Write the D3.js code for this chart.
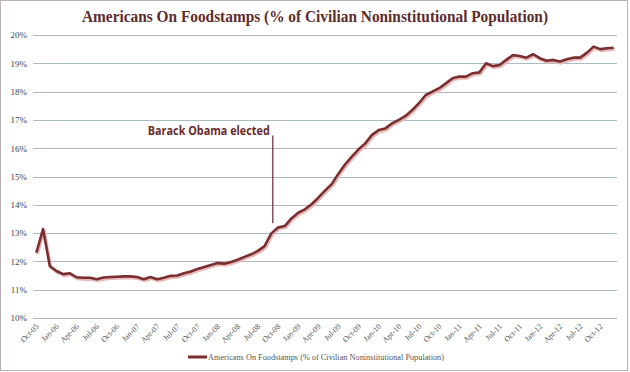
<!DOCTYPE html>
<html>
  <head>
    <meta charset="utf-8">
    <title>Americans On Foodstamps</title>
    <style>
      body { margin: 0; background: #fff; }
      svg { display: block; }
    </style>
  </head>
  <body>
    <div class="chart-area"></div>

    <script src="https://d3js.org/d3.v7.min.js"></script>
    <script>
      // months from Oct-05 to Dec-12
      var monthNames = ["Jan","Feb","Mar","Apr","May","Jun","Jul","Aug","Sep","Oct","Nov","Dec"];
      var months = [];
      for (var k = 0; k < 87; k++) {
        var m = (9 + k) % 12, yr = 5 + Math.floor((9 + k) / 12);
        months.push(monthNames[m] + "-" + (yr < 10 ? "0" + yr : yr));
      }

      // % of civilian noninstitutional population
      var values = [
        12.31, 13.14, 11.84, 11.66, 11.55, 11.58, 11.44, 11.42, 11.42, 11.37,
        11.43, 11.45, 11.46, 11.47, 11.47, 11.45, 11.37, 11.45, 11.37, 11.42,
        11.49, 11.50, 11.58, 11.64, 11.73, 11.80, 11.87, 11.94, 11.92, 11.98,
        12.06, 12.16, 12.25, 12.37, 12.54, 12.99, 13.20, 13.25, 13.52, 13.72,
        13.84, 14.02, 14.25, 14.50, 14.73, 15.10, 15.43, 15.70, 15.96, 16.17,
        16.47, 16.64, 16.70, 16.88, 17.00, 17.14, 17.35, 17.59, 17.88, 18.00,
        18.12, 18.29, 18.47, 18.53, 18.53, 18.65, 18.68, 19.00, 18.90, 18.94,
        19.12, 19.29, 19.26, 19.20, 19.32, 19.18, 19.09, 19.12, 19.06, 19.14,
        19.20, 19.20, 19.37, 19.59, 19.50, 19.53, 19.55
      ];

      var yTicks = [10, 11, 12, 13, 14, 15, 16, 17, 18, 19, 20];
      var xTicks = months.filter(function(d, i) { return i % 3 === 0; });
      var seriesName = "Americans On Foodstamps (% of Civilian Noninstitutional Population)";
      var electedMonth = "Sep-08";

      var W = 630, H = 372;
      var margin = {top: 35, right: 13, bottom: 54, left: 33},
          width = W - margin.left - margin.right,
          height = H - margin.top - margin.bottom;

      var root = d3.select(".chart-area")
        .append("svg")
          .attr("width", W)
          .attr("height", H);

      // outer border
      root.append("rect")
        .attr("x", 0.5).attr("y", 0.5)
        .attr("width", W - 3).attr("height", H - 2)
        .attr("fill", "none")
        .attr("stroke", "#b9b0b8");

      // title
      root.append("text")
        .attr("x", 315).attr("y", 22)
        .attr("text-anchor", "middle")
        .attr("font-family", "Liberation Serif, serif")
        .attr("font-weight", "bold")
        .attr("font-size", 16)
        .attr("fill", "#5e2b2b")
        .attr("textLength", 466)
        .attr("lengthAdjust", "spacingAndGlyphs")
        .text("Americans On Foodstamps (% of Civilian Noninstitutional Population)");

      var svg = root.append("g")
        .attr("transform", "translate(" + margin.left + "," + margin.top + ")");

      var x = d3.scaleBand()
        .domain(months)
        .range([0, width]);

      var y = d3.scaleLinear()
        .domain([10, 20])
        .range([height, 0]);

      // gridlines
      svg.append("g")
        .selectAll("line")
        .data(yTicks)
        .enter().append("line")
          .attr("x1", 0).attr("x2", width)
          .attr("y1", function(d) { return Math.round(y(d)) + 0.5; })
          .attr("y2", function(d) { return Math.round(y(d)) + 0.5; })
          .attr("stroke", function(d, i) { return i % 2 ? "#a9bcc3" : "#bcb3b8"; })
          .attr("stroke-width", 1);

      // y axis labels
      var yAxis = svg.append("g")
        .call(d3.axisLeft(y).tickValues(yTicks).tickSize(0).tickPadding(6)
          .tickFormat(function(d) { return d + "%"; }));
      yAxis.select(".domain").remove();
      yAxis.selectAll("text")
        .attr("font-family", "Liberation Serif, serif")
        .attr("font-size", 9)
        .attr("fill", "#444");

      // x axis labels
      var xAxis = svg.append("g")
        .attr("transform", "translate(0," + height + ")")
        .call(d3.axisBottom(x).tickValues(xTicks).tickSize(0));
      xAxis.select(".domain").remove();
      xAxis.selectAll("text")
        .attr("font-family", "Liberation Serif, serif")
        .attr("font-size", 8)
        .attr("fill", "#555")
        .attr("text-anchor", "end")
        .attr("dy", 0)
        .attr("y", 0)
        .attr("transform", "translate(3,9) rotate(-45)");

      var line = d3.line()
        .x(function(d, i) { return x(months[i]) + x.bandwidth() / 2; })
        .y(function(d) { return y(d); });

      // soft shadow under the line
      svg.append("path")
        .datum(values)
        .attr("d", line)
        .attr("transform", "translate(1,1.5)")
        .attr("fill", "none")
        .attr("stroke", "#e6b9b9")
        .attr("stroke-width", 3.2)
        .attr("stroke-linejoin", "round");

      svg.append("path")
        .datum(values)
        .attr("d", line)
        .attr("fill", "none")
        .attr("stroke", "#7a2e2f")
        .attr("stroke-width", 2.6)
        .attr("stroke-linejoin", "round");

      // annotation
      var ax = x(electedMonth) + x.bandwidth() / 2 + 1.5;
      svg.append("line")
        .attr("x1", ax).attr("x2", ax)
        .attr("y1", y(16.45)).attr("y2", y(13.35))
        .attr("stroke", "#6a2a2c")
        .attr("stroke-width", 1.2);
      svg.append("text")
        .attr("x", ax - 3).attr("y", y(16.48))
        .attr("text-anchor", "end")
        .attr("font-family", "Open Sans, sans-serif")
        .attr("font-weight", "bold")
        .attr("font-size", 12)
        .attr("fill", "#6a2a2c")
        .attr("textLength", 122)
        .attr("lengthAdjust", "spacingAndGlyphs")
        .text("Barack Obama elected");

      // legend
      var legend = root.append("g")
        .attr("transform", "translate(188,357)");
      legend.append("line")
        .attr("x1", 0).attr("x2", 19)
        .attr("y1", 0).attr("y2", 0)
        .attr("stroke", "#7a2e2f")
        .attr("stroke-width", 3);
      legend.append("text")
        .attr("x", 20).attr("y", 2.5)
        .attr("font-family", "Liberation Serif, serif")
        .attr("font-size", 7.5)
        .attr("fill", "#555")
        .attr("textLength", 236)
        .attr("lengthAdjust", "spacingAndGlyphs")
        .text(seriesName);
    </script>
  </body>
</html>
